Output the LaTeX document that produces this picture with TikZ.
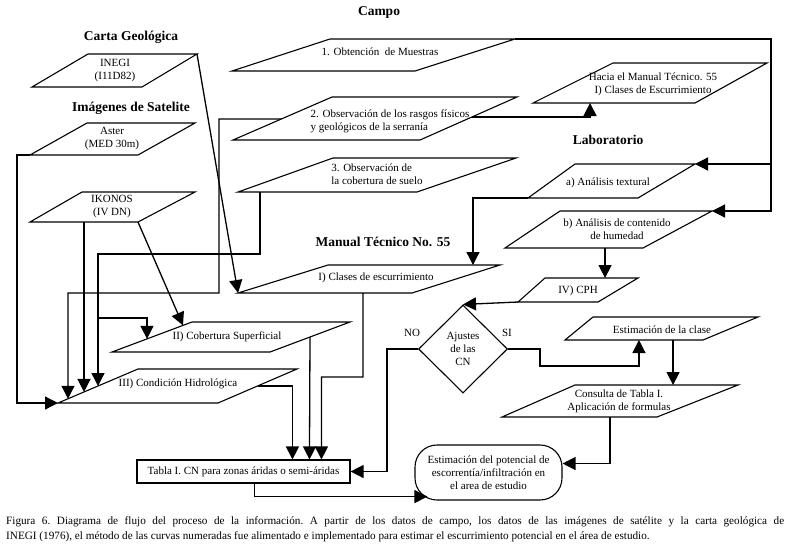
\documentclass[tikz,border=0pt]{standalone}
\usepackage{fontspec}
\setmainfont{Liberation Serif}
\usetikzlibrary{arrows.meta,calc,shapes.geometric}
\tikzset{
  shp/.style={draw=black, line width=1.1pt},
  txt/.style={font=\fontsize{11}{13}\selectfont, inner sep=0pt, align=center},
  ttl/.style={font=\bfseries\fontsize{13.5}{15}\selectfont, inner sep=0pt},
  con/.style={draw=black, line width=1.3pt},
  arr/.style={con, -{Triangle[length=13pt,width=13pt]}},
}
\newcommand\pgram[9]{%
  \coordinate (#1-tl) at (#2,#4);
  \coordinate (#1-tr) at (#3,#4);
  \coordinate (#1-bl) at (#5,#7);
  \coordinate (#1-br) at (#6,#7);
  \draw[shp] (#1-tl) -- (#1-tr) -- (#1-br) -- (#1-bl) -- cycle;
  \node[txt] (#1) #8 {#9};
}
\begin{document}
\begin{tikzpicture}[x=1pt,y=-1pt]
\fill[white] (0,0) rectangle (789,544);
\useasboundingbox (0,0) rectangle (789,544);

% titles
\node[ttl] (tcampo) at (379,12) {Campo};
\node[ttl] (tcarta) at (131,37) {Carta Geológica};
\node[ttl] (timg) at (131,108) {Imágenes de Satelite};
\node[ttl] (tlab) at (608,140) {Laboratorio};
\node[ttl] (tman) at (383,242) {Manual Técnico No. 55};

% boxes
\pgram{ineg}{88}{197}{54}{32}{142}{87}{at (115,71)}{INEGI\\(I11D82)}
\pgram{aster}{87}{195}{123}{30}{138}{155}{at (112,139)}{Aster\\(MED 30m)}
\pgram{ik}{82}{195}{192}{30}{138}{222}{at (112,207)}{IKONOS\\(IV DN)}
\pgram{c1}{330}{515}{39}{232}{415}{71}{at (380,52)}{1. Obtención\ \ de Muestras}
\pgram{c2}{332}{517}{97}{233}{420}{140}{[align=left] at (390,121)}{2. Observación de los rasgos físicos\\y geológicos de la serranía}
\pgram{c3}{333}{516}{158}{238}{417}{192}{[align=left] at (377,174)}{3. Observación de\\la cobertura de suelo}
\pgram{ha}{613}{767}{63}{533}{695}{103}{at (653,84)}{Hacia el Manual Técnico. 55\\I) Clases de Escurrimiento}
\pgram{la}{575}{695}{164}{528}{638}{198}{at (608,183)}{a) Análisis textural}
\pgram{lb}{560}{712}{211}{505}{643}{248}{at (617,229)}{b) Análisis de contenido\\de humedad}
\pgram{mt}{328}{500}{265}{238}{412}{293}{at (376,278)}{I) Clases de escurrimiento}
\pgram{cph}{545}{638}{278}{518}{598}{302}{at (578,291)}{IV) CPH}
\pgram{ec}{593}{758}{317}{565}{703}{340}{at (662,330)}{Estimación de la clase}
\pgram{ct}{575}{738}{385}{502}{657}{417}{at (619,401)}{Consulta de Tabla I.\\Aplicación de formulas}
\pgram{ii}{192}{350}{322}{112}{270}{352}{at (227,337)}{II) Cobertura Superficial}
\pgram{iii}{138}{297}{369}{58}{218}{403}{at (178,384)}{III) Condición Hidrológica}

\node[shp, diamond, minimum width=89pt, minimum height=88pt, inner sep=0pt] (dia) at (463,349) {};
\node[txt] (diat) at (463,349) {Ajustes\\de las\\CN};
\node[txt] (tno) at (412,333) {NO};
\node[txt] (tsi) at (507,333) {SI};

\node[shp, txt, rounded corners=22pt, minimum width=147pt, minimum height=55pt] (pot) at (488.5,472.5)
  {Estimación del potencial de\\escorrentía/infiltración en\\el area de estudio};
\node[shp, txt, minimum width=213pt, minimum height=23pt] (tabla) at (243.5,471.5)
  {Tabla I. CN para zonas áridas o semi-áridas};

% helper points
\coordinate (iii-a) at ($(iii-bl)!0.125!(iii-tl)$);
\coordinate (iii-b) at ($(iii-bl)!0.325!(iii-tl)$);
\coordinate (iii-c) at ($(iii-bl)!0.5!(iii-tl)$);
\coordinate (ii-a) at ($(ii-bl)!0.4375!(ii-tl)$);
\coordinate (ec-b) at ($(ec-bl)!0.536!(ec-br)$);
\coordinate (ec-c) at ($(ec-bl)!0.783!(ec-br)$);
\coordinate (lb-c) at ($(lb-bl)!0.725!(lb-br)$);
\coordinate (rx) at ($(c1-tr)+(256,0)$);

% connectors
\draw[arr] (ineg-tr) -- (mt-bl);
\draw[arr] (aster-bl) -- ++(-13,0) |- (iii-bl);
\draw[arr] ($(c2-bl)!0.488!(c2-tl)$) -- (219,119) -- (219,293) -| (iii-a);
\draw[arr] (iii-b |- ik-bl) -- (iii-b);
\draw[arr] ($(c3-bl)+(22,0)$) -- (260,254) -| (iii-c);
\draw[arr] (98,318) -| (ii-a);
\draw[arr] (ik-br) -- ($(ii-bl)!0.8875!(ii-tl)$);
\draw[arr] ($(mt-bl)!0.718!(mt-br)$) -- (363,377) -| ($(tabla.north west)+(185,0)$);
\draw[arr] ($(ii-br)!0.5!(ii-tr)$) -- ($(tabla.north west)+(173,0)$);
\draw[arr] ($(iii-br)!0.5!(iii-tr)$) -| ($(tabla.north west)+(156,0)$);
\draw[arr] ($(tabla.south west)+(118,0)$) |- ($(pot.south west)+(13,-4)$);
\draw[arr] (dia.west) -- ++(-31,0) |- (tabla.east);
\draw[arr] (dia.east) -- (540,349) -- (540,366) -| (ec-b);
\draw[arr] (ec-c) -- (ec-c |- ct-tl);
\draw[arr] ($(ct-bl)!0.697!(ct-br)$) |- ($(pot.east)+(0,-9)$);
\draw[arr] (cph-bl) -- (dia.north);
\draw[arr] (lb-c) -- (lb-c |- cph-tl);
\draw[arr] (c1-tr) -- (rx) |- (lb-tr);
\draw[arr] (rx |- la-tr) -- (la-tr);
\draw[arr] (la-bl) -| ($(mt-tl)!0.843!(mt-tr)$);
\draw[arr] ($(c2-br)!0.535!(c2-tr)$) -| ($(ha-bl)!0.352!(ha-br)$);

% caption
\node[anchor=north west, text width=778pt, align=justify, inner sep=0pt,
      font=\fontsize{11.2}{15}\selectfont\frenchspacing] (cap) at (6,516)
  {Figura 6. Diagrama de flujo del proceso de la información. A partir de los datos de campo, los datos de las imágenes de satélite y la carta geológica de\linebreak INEGI (1976), el método de las curvas numeradas fue alimentado e implementado para estimar el escurrimiento potencial en el área de estudio.};
\end{tikzpicture}
\end{document}
